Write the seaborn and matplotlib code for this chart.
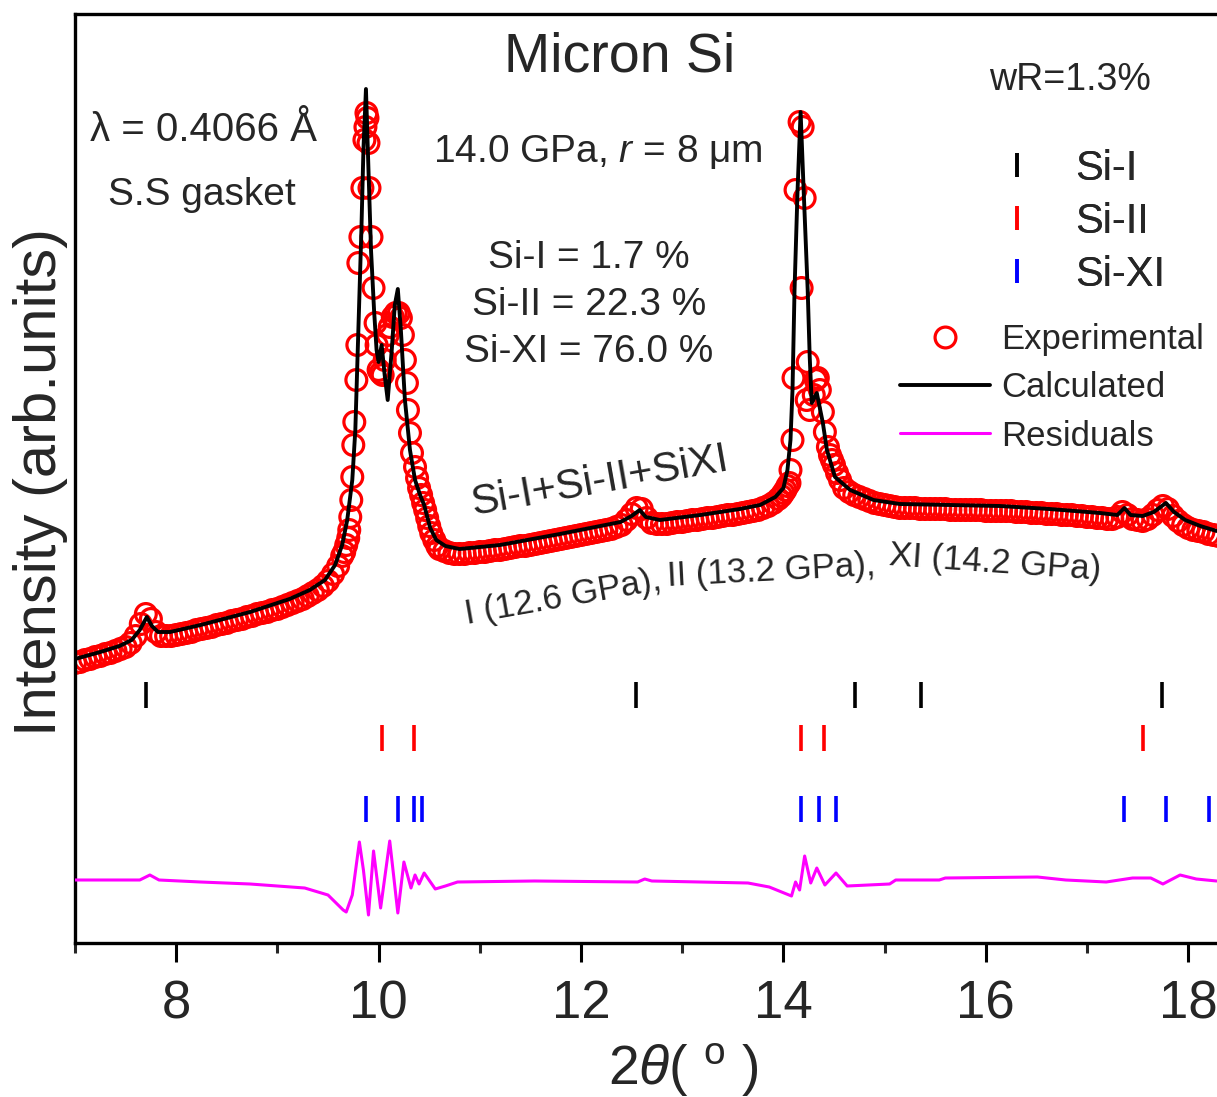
import numpy as np
import pandas as pd
import matplotlib
matplotlib.use("Agg")
import matplotlib.pyplot as plt
from matplotlib.lines import Line2D
import seaborn as sns

# ---------------- data (2theta in degrees, intensity in arb. units) ----------------
calc_x = [7.00, 7.25, 7.44, 7.56, 7.64, 7.71, 7.76, 7.82, 7.94, 8.24, 8.73, 9.12, 9.32, 9.47,
          9.57, 9.64, 9.69, 9.74, 9.77, 9.80, 9.83, 9.85, 9.875, 9.90, 9.925, 9.955, 9.98,
          10.00, 10.03, 10.06, 10.09, 10.13, 10.16, 10.19, 10.22, 10.26, 10.31, 10.36, 10.41,
          10.45, 10.51, 10.57, 10.66, 10.80, 11.20, 11.79, 12.39, 12.50, 12.58, 12.64, 12.78,
          13.18, 13.57, 13.77, 13.92, 14.00, 14.04, 14.07, 14.09, 14.11, 14.14, 14.17, 14.20,
          14.24, 14.26, 14.28, 14.33, 14.39, 14.43, 14.51, 14.66, 14.89, 15.15, 15.65, 16.14,
          16.63, 17.13, 17.30, 17.37, 17.43, 17.55, 17.66, 17.78, 17.86, 17.97, 18.12, 18.28]
calc_y = [284, 291, 297, 303, 313, 326, 317, 311, 311, 318, 331, 344, 353, 363,
          378, 398, 423, 463, 513, 613, 713, 793, 854, 773, 693, 633, 593,
          581, 598, 568, 543, 593, 638, 654, 613, 543, 493, 463, 448,
          438, 415, 403, 397, 394, 398, 409, 421, 427, 433, 426, 423,
          428, 434, 438, 446, 455, 473, 503, 553, 653, 753, 831, 753,
          653, 586, 540, 550, 520, 493, 466, 453, 443, 439, 438, 437,
          434, 430, 428, 435, 428, 427, 431, 440, 431, 423, 417, 412]

exp_x = [7.00, 7.05, 7.10, 7.15, 7.20, 7.25, 7.30, 7.35, 7.40, 7.45, 7.50, 7.55, 7.60, 7.65,
         7.70, 7.75, 7.80, 7.85, 7.90, 7.95, 8.00, 8.05, 8.10, 8.15, 8.20, 8.25, 8.30, 8.35,
         8.40, 8.45, 8.50, 8.55, 8.60, 8.65, 8.70, 8.75, 8.80, 8.85, 8.90, 8.95, 9.00, 9.05,
         9.10, 9.15, 9.20, 9.25, 9.30, 9.35, 9.40, 9.45, 9.50, 9.55, 9.60,
         9.64, 9.66, 9.68, 9.70, 9.71, 9.72, 9.73, 9.74, 9.75, 9.76, 9.78, 9.79, 9.80, 9.82,
         9.84, 9.86, 9.87, 9.88, 9.89, 9.90, 9.91, 9.93, 9.95, 9.97, 9.98, 10.00, 10.02, 10.04,
         10.06, 10.09, 10.11, 10.14, 10.17, 10.20, 10.22, 10.24, 10.26, 10.28, 10.29, 10.31,
         10.33, 10.36, 10.38, 10.40, 10.42, 10.44, 10.46, 10.48, 10.50, 10.52, 10.55, 10.58,
         10.60, 10.65, 10.70, 10.75, 10.80, 10.85, 10.90, 10.95, 11.00, 11.05, 11.10, 11.15,
         11.20, 11.25, 11.30, 11.35, 11.40, 11.45, 11.50, 11.55, 11.60, 11.65, 11.70, 11.75,
         11.80, 11.85, 11.90, 11.95, 12.00, 12.05, 12.10, 12.15, 12.20, 12.25, 12.30, 12.35,
         12.40, 12.45, 12.50, 12.55, 12.60, 12.65, 12.70, 12.75, 12.80, 12.85, 12.90, 12.95,
         13.00, 13.05, 13.10, 13.15, 13.20, 13.25, 13.30, 13.35, 13.40, 13.45, 13.50, 13.55,
         13.60, 13.65, 13.70, 13.75, 13.80, 13.85, 13.90, 13.95,
         13.98, 14.00, 14.02, 14.04, 14.06, 14.07, 14.09, 14.10, 14.12, 14.16, 14.18, 14.19,
         14.21, 14.23, 14.24, 14.26, 14.30, 14.32, 14.34, 14.36, 14.39, 14.41, 14.44, 14.46,
         14.48, 14.50, 14.53, 14.56,
         14.60, 14.65, 14.70, 14.75, 14.80, 14.85, 14.90, 14.95, 15.00, 15.05, 15.10, 15.15,
         15.20, 15.25, 15.30, 15.35, 15.40, 15.45, 15.50, 15.55, 15.60, 15.65, 15.70, 15.75,
         15.80, 15.85, 15.90, 15.95, 16.00, 16.05, 16.10, 16.15, 16.20, 16.25, 16.30, 16.35,
         16.40, 16.45, 16.50, 16.55, 16.60, 16.65, 16.70, 16.75, 16.80, 16.85, 16.90, 16.95,
         17.00, 17.05, 17.10, 17.15, 17.20, 17.25, 17.30, 17.35, 17.40, 17.45, 17.50, 17.55,
         17.60, 17.65, 17.70, 17.75, 17.80, 17.85, 17.90, 17.95, 18.00, 18.05, 18.10, 18.15,
         18.20, 18.25, 18.30]
exp_y = [280, 281, 283, 284, 286, 287, 289, 290, 292, 294, 296, 300, 307, 319,
         329, 324, 311, 307, 307, 307, 308, 309, 310, 311, 313, 314, 315, 316,
         318, 319, 320, 322, 323, 324, 326, 327, 329, 330, 331, 333, 334, 336,
         338, 340, 342, 344, 347, 350, 353, 357, 362, 369, 377,
         387, 391, 398, 405, 413, 426, 443, 466, 498, 521, 563, 598, 680, 706,
         755, 803, 816, 830, 825, 800, 755, 706, 655, 620, 598, 573, 570, 568,
         583, 608, 616, 626, 630, 630, 625, 608, 583, 560, 533, 510,
         490, 476, 465, 455, 448, 440, 433, 425, 417, 410, 403, 397,
         394, 392, 390, 389, 389, 389, 390, 390, 391, 391, 392, 393,
         393, 394, 395, 396, 397, 397, 398, 399, 400, 401, 402, 403,
         404, 405, 406, 407, 408, 409, 410, 411, 412, 413, 414, 416,
         418, 423, 429, 435, 434, 425, 420, 419, 419, 419, 420, 421,
         421, 422, 423, 423, 424, 425, 425, 426, 427, 428, 428, 429,
         430, 431, 432, 433, 435, 437, 440, 444,
         447, 450, 453, 457, 460, 473, 503, 565, 753, 821, 655, 816,
         745, 543, 581, 533, 548, 563, 565, 553, 531, 511, 496, 488,
         483, 478, 470, 463,
         455, 451, 448, 446, 444, 442, 440, 439, 438, 437, 436, 435,
         435, 435, 435, 434, 434, 434, 434, 434, 434, 433, 433, 433,
         433, 433, 433, 433, 432, 432, 432, 432, 432, 432, 431, 431,
         431, 430, 430, 430, 429, 429, 429, 428, 428, 428, 427, 427,
         426, 426, 425, 425, 424, 424, 426, 431, 428, 424, 423, 422,
         424, 428, 433, 437, 434, 427, 422, 418, 415, 413, 412, 411,
         409, 408, 407]

res_x = [7.00, 7.64, 7.74, 7.83, 8.24, 8.73, 9.27, 9.50, 9.65, 9.68, 9.74, 9.81, 9.85, 9.90,
         9.95, 10.02, 10.11, 10.19, 10.25, 10.32, 10.36, 10.40, 10.45, 10.56, 10.66, 10.78,
         11.54, 12.56, 12.63, 12.70, 13.65, 13.86, 14.08, 14.12, 14.16, 14.21, 14.27, 14.33,
         14.41, 14.52, 14.63, 15.05, 15.11, 15.54, 15.60, 16.51, 16.79, 17.19, 17.45, 17.63,
         17.75, 17.92, 18.08, 18.28]
res_y = [0, 0, 5, 0, -2, -4, -8, -15, -30, -32, -15, 38, 10, -35,
         29, -28, 39, -33, 18, -8, 5, -4, 7, -9, -6, -2,
         -1, -2, 1, -1, -3, -7, -16, -2, -10, 24, -3, 12,
         -5, 7, -6, -4, 0, 0, 2, 3, 0, -2, 2, 2,
         -4, 5, 1, -1]

si1_pos = [7.70, 12.54, 14.71, 15.36, 17.74]
si2_pos = [10.03, 10.35, 14.17, 14.40, 17.55]
si11_pos = [9.875, 10.19, 10.35, 10.43, 14.17, 14.35, 14.52, 17.37, 17.78, 18.21]

phase_labels = ["Si-I", "Si-II", "Si-XI"]
phase_colors = ["black", "#FF0000", "#0000FF"]
series_labels = ["Experimental", "Calculated", "Residuals"]

# ---------------- style ----------------
sns.set_style("ticks")
plt.rcParams["font.family"] = ["Liberation Sans", "DejaVu Sans"]
plt.rcParams["mathtext.fontset"] = "custom"
plt.rcParams["mathtext.rm"] = "Liberation Sans"
plt.rcParams["mathtext.it"] = "Liberation Sans:italic"
plt.rcParams["mathtext.bf"] = "Liberation Sans:bold"

W, H = 1217, 1097
fig = plt.figure(figsize=(W / 100, H / 100), dpi=100)
fig.patch.set_facecolor("white")
ax = fig.add_axes([75 / W, 1 - 943 / H, 1 - 75 / W, (943 - 14) / H])


def fx(px):
    return px / W


def fy(py):
    return 1 - py / H


# experimental points
sns.scatterplot(x=exp_x, y=exp_y, ax=ax, marker="o", s=225, facecolor="none",
                edgecolor="#FF0000", linewidth=2.3, zorder=2)
# calculated profile
sns.lineplot(x=calc_x, y=calc_y, ax=ax, color="black", linewidth=2.8,
             sort=False, estimator=None, zorder=3)
# residuals (offset below the tick rows)
res_offset = 63
sns.lineplot(x=res_x, y=np.array(res_y) + res_offset, ax=ax, color="#FF00FF",
             linewidth=2.2, sort=False, estimator=None, zorder=3)

# Bragg reflection tick rows
row_levels = [248, 205, 134]
for pos, lvl, col in zip([si1_pos, si2_pos, si11_pos], row_levels, phase_colors):
    ax.plot(pos, [lvl] * len(pos), ls="", marker="|", ms=19, mew=2.6, color=col, zorder=3)

ax.set_xlim(7, 7 + (W - 75) / 101.2)
ax.set_ylim(0, 929)
ax.set_yticks([])
ax.set_xticks([8, 10, 12, 14, 16, 18])
ax.set_xticks([7, 9, 11, 13, 15, 17], minor=True)
ax.tick_params(axis="x", which="major", length=14, width=2.2, direction="out",
               labelsize=38, pad=12, color="black")
ax.tick_params(axis="x", which="minor", length=7, width=2.2, direction="out")
for side in ["left", "bottom", "top"]:
    ax.spines[side].set_linewidth(2.4)
    ax.spines[side].set_color("black")
ax.spines["right"].set_visible(False)

ax.set_xlabel(r"2$\mathit{\theta}$( $^{\mathrm{o}}$ )", fontsize=40)
ax.xaxis.set_label_coords((683 - 75) / (W - 75), (943 - 1042) / 929)
ax.set_ylabel("Intensity (arb.units)", fontsize=43)
ax.yaxis.set_label_coords((68 - 75) / (W - 75), (943 - 482) / 929)

# ---------------- annotations ----------------
fig.text(fx(620), fy(57), "Micron Si", fontsize=40, ha="center", va="center")
fig.text(fx(1070), fy(80), "wR=1.3%", fontsize=27, ha="center", va="center")
fig.text(fx(90), fy(130), "λ = 0.4066 Å", fontsize=29, ha="left", va="center")
fig.text(fx(108), fy(195), "S.S gasket", fontsize=28, ha="left", va="center")
fig.text(fx(433), fy(152), r"14.0 GPa, $\mathit{r}$ = 8 μm", fontsize=28, ha="left", va="center")
for txt, py in zip(["Si-I = 1.7 %", "Si-II = 22.3 %", "Si-XI = 76.0 %"], [258, 305, 352]):
    fig.text(fx(589), fy(py), txt, fontsize=28, ha="center", va="center")
fig.text(fx(600), fy(482), "Si-I+Si-II+SiXI", fontsize=30, ha="center", va="center",
         rotation=10, rotation_mode="anchor")
for txt, cx, cy, rot in [("I (12.6 GPa),", 563, 597, 10),
                         ("II (13.2 GPa),", 771, 571, 3),
                         ("XI (14.2 GPa)", 995, 563, -4)]:
    fig.text(fx(cx), fy(cy), txt, fontsize=25, ha="center", va="center",
             rotation=rot, rotation_mode="anchor")

# ---------------- legends ----------------
phase_handles = [Line2D([], [], ls="", marker="|", ms=17, mew=2.6, color=c) for c in phase_colors]
leg1 = fig.legend(phase_handles, phase_labels, loc="upper left",
                  bbox_to_anchor=(fx(996), fy(149)), frameon=False, fontsize=30,
                  handlelength=1.0, handletextpad=0.9, labelspacing=0.31, borderpad=0,
                  borderaxespad=0)
series_handles = [Line2D([], [], ls="", marker="o", ms=15, mfc="none", mec="#FF0000", mew=2.3),
                  Line2D([], [], color="black", lw=2.8),
                  Line2D([], [], color="#FF00FF", lw=2.2)]
leg2 = fig.legend(series_handles, series_labels, loc="upper left",
                  bbox_to_anchor=(fx(900), fy(323)), frameon=False, fontsize=25,
                  handlelength=2.6, handletextpad=0.32, labelspacing=0.44, borderpad=0,
                  borderaxespad=0)
fig.add_artist(leg1)

fig.savefig("out.png", dpi=100, facecolor="white")
